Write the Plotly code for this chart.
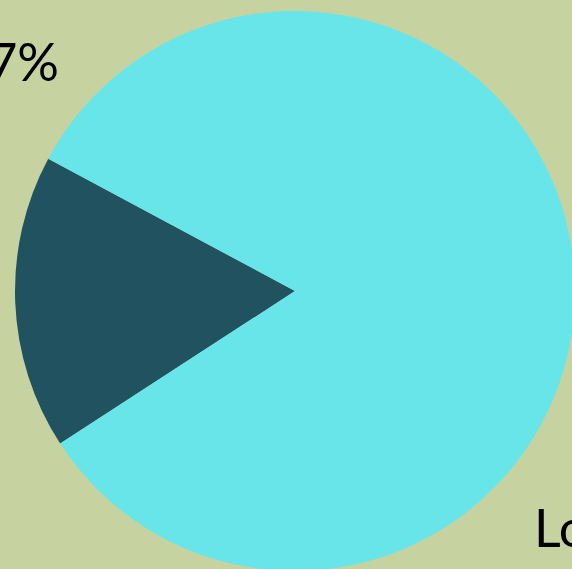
import plotly.graph_objects as go

labels = ["High", "Low"]
values = [17, 83]
colors = ["#215260", "#68e5e8"]

W, H = 590, 582
total = sum(values)
pct_text = f"{round(values[0] / total * 100)}%"

fig = go.Figure(go.Pie(
    labels=labels,
    values=values,
    sort=False,
    direction="clockwise",
    rotation=237,
    marker=dict(colors=colors, line=dict(width=0)),
    textinfo="none",
    hoverinfo="label+percent",
    showlegend=False,
    domain=dict(x=[0, 1], y=[11 / H, 571 / H]),
))

fig.update_layout(
    width=W,
    height=H,
    margin=dict(l=0, r=0, t=0, b=0),
    paper_bgcolor="#c6d3a0",
    plot_bgcolor="#c6d3a0",
    font=dict(family="Lato", color="#000000", size=52),
    annotations=[
        dict(text=pct_text, x=61 / W, y=1 - 61 / H, xref="paper", yref="paper",
             xanchor="right", yanchor="middle", showarrow=False,
             font=dict(size=52, color="#000000")),
        dict(text=labels[1], x=532 / W, y=1 - 526.5 / H, xref="paper", yref="paper",
             xanchor="left", yanchor="middle", showarrow=False,
             font=dict(size=52, color="#000000")),
    ],
)

post = ("document.body.style.margin='0';"
        "document.body.style.overflow='hidden';"
        "document.documentElement.style.overflow='hidden';")
fig.write_html("out.html", post_script=post, config={"displayModeBar": False})
